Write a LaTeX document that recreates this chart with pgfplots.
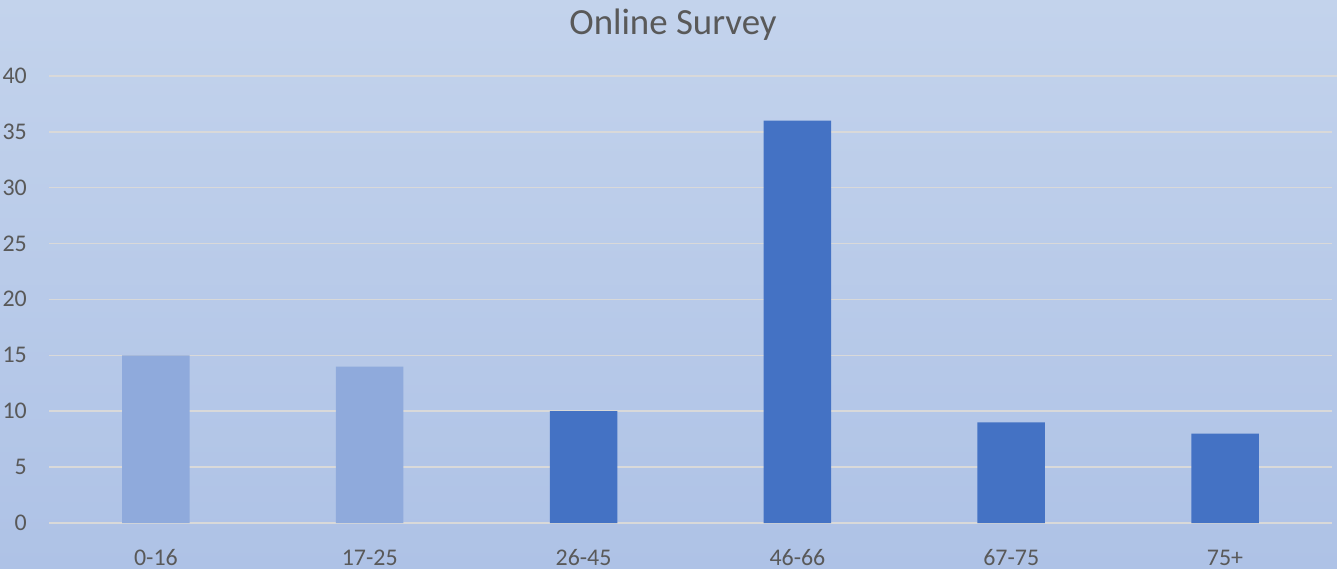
\documentclass[border=0pt]{standalone}
\usepackage{pgfplots}
\pgfplotsset{compat=1.18}
\usepackage{fontspec}
\setmainfont{Carlito}
\definecolor{bgtop}{HTML}{C3D3EC}
\definecolor{bgbot}{HTML}{AEC2E6}
\definecolor{lightbar}{HTML}{8FAADC}
\definecolor{darkbar}{HTML}{4472C4}
\definecolor{gridc}{HTML}{D9D9D9}
\definecolor{textc}{HTML}{595959}
\begin{document}
\begin{tikzpicture}
\shade[top color=bgtop, bottom color=bgbot] (0,0) rectangle (1337bp,569bp);
\node[font=\fontsize{37}{40}\selectfont, text=textc, anchor=base] at (673bp,534bp) {Online Survey};
\begin{axis}[
  at={(49bp,46bp)}, anchor=south west,
  scale only axis, width=1283bp, height=447bp,
  xmin=-0.5, xmax=5.5, ymin=0, ymax=40,
  ytick={0,5,...,40},
  xtick={0,1,2,3,4,5},
  xticklabels={0-16,17-25,26-45,46-66,67-75,75+},
  axis line style={draw=none},
  tick style={draw=none},
  ymajorgrids,
  major grid style={draw=gridc, line width=1.5bp, shorten >=-6bp},
  ticklabel style={font=\fontsize{24}{26}\selectfont, text=textc, inner sep=0pt},
  /pgf/number format/assume math mode=true,
  yticklabel style={anchor=base east, xshift=-22bp, yshift=-7.5bp},
  xticklabel style={anchor=base, yshift=-38bp},
  ybar, bar width=67.5bp, bar shift=0pt,
  clip=false,
]
\addplot[fill=lightbar, draw=none] coordinates {(0,15) (1,14)};
\addplot[fill=darkbar, draw=none] coordinates {(2,10) (3,36) (4,9) (5,8)};
\end{axis}
\pgfresetboundingbox
\useasboundingbox (0,0) rectangle (1337bp,569bp);
\end{tikzpicture}
\end{document}
